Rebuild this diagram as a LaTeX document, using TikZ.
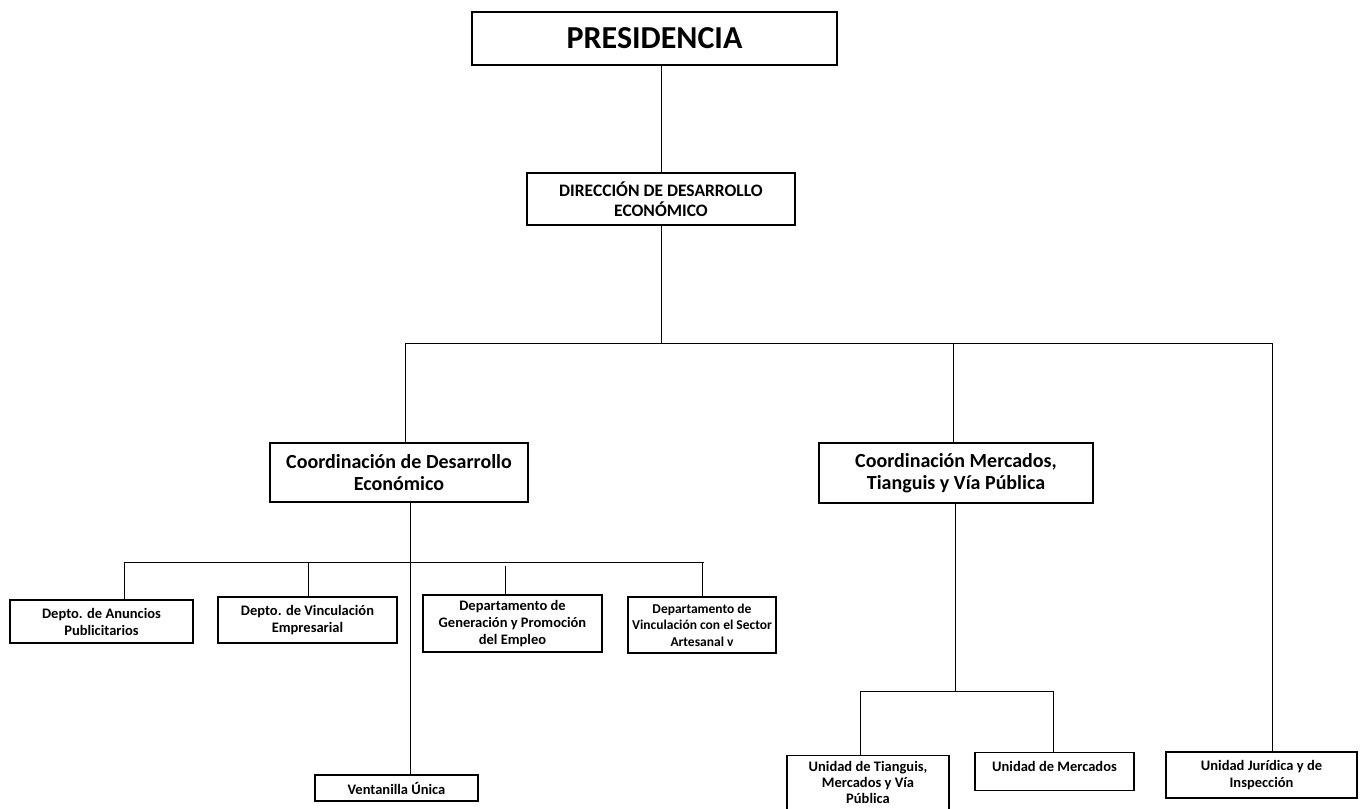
\documentclass[tikz,border=0pt]{standalone}
\usepackage{fontspec}
\setmainfont{Carlito}
\begin{document}
\begin{tikzpicture}[x=1pt,y=-1pt,
  box/.style={draw, line width=1.2pt, align=center, inner sep=1pt, font=\bfseries},
  big/.style={font=\fontsize{32}{36}\selectfont\bfseries},
  mid/.style={font=\fontsize{20}{22}\selectfont\bfseries},
  dir/.style={font=\fontsize{17.5}{20}\selectfont\bfseries},
  small/.style={font=\fontsize{14.5}{17}\selectfont\bfseries},
  narrow/.style={font=\fontsize{13.5}{16.5}\selectfont\bfseries},
  tight/.style={font=\fontsize{14.5}{16}\selectfont\bfseries},
  link/.style={line width=1pt}]
\useasboundingbox (0,0) rectangle (1361,809);
% boxes
\node[box,big,minimum width=365pt,minimum height=53pt] (pres) at (654.5,38.5) {PRESIDENCIA};
\node[box,dir,minimum width=268pt,minimum height=52pt] (dirn) at (661,199) {DIRECCIÓN DE DESARROLLO\\ECONÓMICO};
\node[box,mid,minimum width=258pt,minimum height=59pt] (cde) at (399,472.5) {Coordinación de Desarrollo\\Económico};
\node[box,mid,minimum width=274pt,minimum height=60pt] (cm) at (956,473) {Coordinación Mercados,\\Tianguis y Vía Pública};
\node[box,small,minimum width=183pt,minimum height=43pt] (d1) at (101.5,621.5) {Depto. de Anuncios\\Publicitarios};
\node[box,small,minimum width=179pt,minimum height=46pt] (d2) at (307.5,620) {Depto. de Vinculación\\Empresarial};
\node[box,small,minimum width=179pt,minimum height=57pt] (d3) at (512.5,623.5) {Departamento de\\Generación y Promoción\\del Empleo};
\node[box,narrow,minimum width=148pt,minimum height=56pt] (d4) at (702,625) {Departamento de\\Vinculación con el Sector\\Artesanal v};
\node[box,small,minimum width=163pt,minimum height=26pt] (vent) at (396.5,788) {Ventanilla Única};
\node[box,tight,minimum width=162pt,anchor=north,inner ysep=6pt] (ut) at (868,755) {Unidad de Tianguis,\\Mercados y Vía\\Pública};
\node[box,small,minimum width=159pt,anchor=north,inner ysep=3pt,text height=16pt,text depth=16pt] (um) at (1054.5,752) {Unidad de Mercados};
\node[box,small,minimum width=191pt,minimum height=46pt] (uj) at (1261.5,775) {Unidad Jurídica y de\\Inspección};
% junction coordinates
\coordinate (busA) at (661,343);
\coordinate (busB) at (410,562);
\coordinate (busC) at (955,691);
\coordinate (xl) at (405,343);
\coordinate (xr) at (1272,343);
\coordinate (xm) at (953,343);
% connectors
\draw[link] (pres.south -| dirn) -- (dirn.north);
\draw[link] (dirn.south) -- (busA);
\draw[link] (xl) -- (xr);
\draw[link] (xl) -- (xl |- cde.north);
\draw[link] (xm) -- (xm |- cm.north);
\draw[link] (xr) -- (xr |- uj.north);
% coordinación desarrollo
\draw[link] (cde.south -| busB) -- (vent.north -| busB);
\draw[link] (124,562) coordinate (b1) -- (704,562) coordinate (b4);
\draw[link] (b1) -- (b1 |- d1.north);
\draw[link] (308,562) coordinate (b2) -- (b2 |- d2.north);
\draw[link] (505,566) coordinate (b3) -- (b3 |- d3.north);
\draw[link] (702,562) coordinate (b5) -- (b5 |- d4.north);
% coordinación mercados
\draw[link] (cm.south -| busC) -- (busC);
\draw[link] (860,691) coordinate (c1) -- (1053,691) coordinate (c2);
\draw[link] (c1) -- (c1 |- ut.north);
\draw[link] (c2) -- (c2 |- um.north);
\end{tikzpicture}
\end{document}
